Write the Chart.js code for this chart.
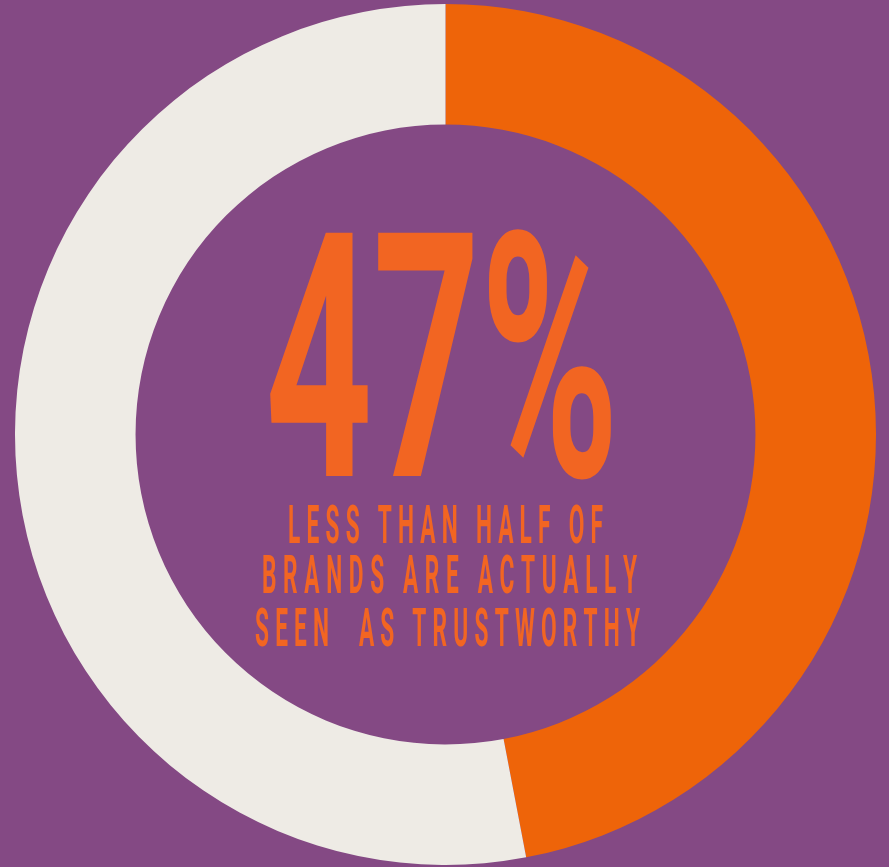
<!DOCTYPE html>
<html>
<head>
<meta charset="utf-8">
<script src="https://cdn.jsdelivr.net/npm/chart.js@4"></script>
<style>
  html, body { margin: 0; padding: 0; background: #844984; }
  #wrap { width: 889px; height: 867px; position: relative; }
</style>
</head>
<body>
<div id="wrap"><canvas id="canvas"></canvas></div>
<script>
/* Data */
const labels = ["Seen as trustworthy", "Not seen as trustworthy"];
const values = [47, 53];
const colors = ["#ee6409", "#eeebe5"];
const bigText = "47%";
const textLines = ["LESS THAN HALF OF", "BRANDS ARE ACTUALLY", "SEEN  AS TRUSTWORTHY"];

/* Draws a condensed, letter-spaced line char by char */
function drawSpaced(ctx, text, cx, baseline, width, sx) {
  let widths = [];
  let total = 0;
  for (let ch of text) {
    let w = ctx.measureText(ch).width * sx;
    widths.push(w);
    total += w;
  }
  let gap = (width - total) / (text.length - 1);
  let x = cx - width / 2;
  for (let i = 0; i < text.length; i++) {
    ctx.save();
    ctx.translate(x, baseline);
    ctx.scale(sx, 1);
    ctx.fillText(text[i], 0, 0);
    ctx.restore();
    x += widths[i] + gap;
  }
}

const centerText = {
  id: "centerText",
  afterDraw(chart) {
    const ctx = chart.ctx;
    ctx.save();
    ctx.fillStyle = "#f26522";
    ctx.textAlign = "left";
    ctx.textBaseline = "alphabetic";

    // big number
    ctx.font = "bold 342px Roboto";
    let w = ctx.measureText(bigText).width;
    let target = 354;
    ctx.save();
    ctx.translate(442 - target / 2, 476);
    ctx.scale(target / w, 1);
    ctx.fillText(bigText, 0, 0);
    ctx.restore();

    // caption
    ctx.font = "bold 54px Roboto";
    drawSpaced(ctx, textLines[0], 445.5, 543, 315, 0.42);
    drawSpaced(ctx, textLines[1], 449.5, 593, 375, 0.42);
    drawSpaced(ctx, textLines[2], 447.5, 646, 385, 0.42);
    ctx.restore();
  }
};

const ctx = document.getElementById("canvas").getContext("2d");
window.myChart = new Chart(ctx, {
  type: "doughnut",
  data: {
    labels: labels,
    datasets: [
      {
        data: values,
        backgroundColor: colors,
        borderWidth: 0,
      },
    ],
  },
  options: {
    responsive: true,
    maintainAspectRatio: false,
    animation: false,
    cutout: "72%",
    layout: {
      padding: { top: 4, bottom: 2, left: 2, right: 0 },
    },
    plugins: {
      legend: { display: false },
      tooltip: { enabled: false },
    },
  },
  plugins: [centerText],
});
</script>
</body>
</html>
